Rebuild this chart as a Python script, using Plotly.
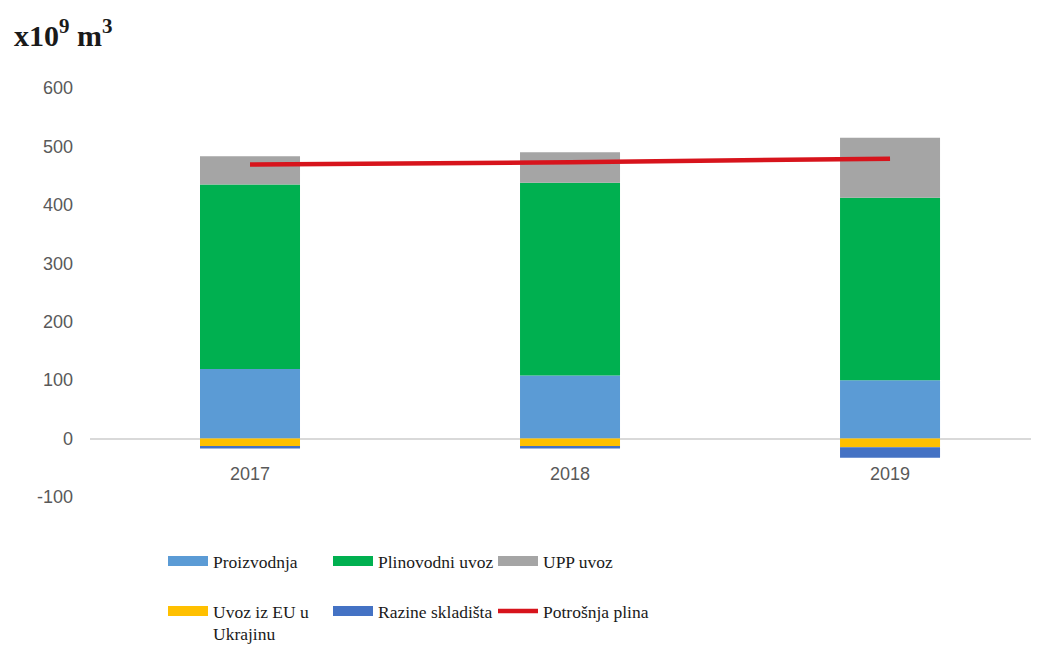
import plotly.graph_objects as go

years = ["2017", "2018", "2019"]
proizvodnja = [119, 108, 100]
plinovodni_uvoz = [316, 330, 312]
upp_uvoz = [48, 52, 103]
uvoz_eu_ukrajina = [-14, -14, -15]
razine_skladista = [-3, -3, -18]
potrosnja_plina = [469, 473, 479]

y_ticks = [-100, 0, 100, 200, 300, 400, 500, 600]
y_tick_labels = ["-100", "0", "100", "200", "300", "400", "500", "600"]

names = ["Proizvodnja", "Plinovodni uvoz", "UPP uvoz",
         "Uvoz iz EU u<br>Ukrajinu", "Razine skladišta"]
colors = ["#5b9bd5", "#00b050", "#a5a5a5", "#ffc000", "#4472c4"]
series = [proizvodnja, plinovodni_uvoz, upp_uvoz, uvoz_eu_ukrajina, razine_skladista]
legends = ["legend", "legend", "legend", "legend2", "legend2"]

fig = go.Figure()
for name, col, vals in zip(names, colors, series):
    fig.add_trace(go.Bar(x=years, y=vals, name=name, marker_color=col,
                         marker_line_width=0, width=0.3125, showlegend=False,
                         legendgroup=name))

# legend entries (wide swatches) linked to the bars
for name, col, lg in zip(names, colors, legends):
    fig.add_trace(go.Scatter(x=[None], y=[None], mode="lines", name=name,
                             line=dict(color=col, width=12), legend=lg,
                             legendgroup=name, hoverinfo="skip"))

fig.add_trace(go.Scatter(x=years, y=potrosnja_plina, mode="lines",
                         name="Potrošnja plina", legend="legend2",
                         line=dict(color="#d7141c", width=4.5)))

tick_font = dict(family="Liberation Sans Narrow, Liberation Sans, Arial", size=18, color="#595959")
leg_font = dict(family="Liberation Serif, Times New Roman, serif", size=17.5, color="#1a1a1a")

leg_common = dict(orientation="h", xref="container", yref="container",
                  x=155 / 1039, xanchor="left", yanchor="top",
                  entrywidth=110, entrywidthmode="pixels", itemwidth=40,
                  font=leg_font, traceorder="normal", valign="top",
                  bgcolor="rgba(0,0,0,0)")

fig.update_layout(
    width=1039, height=655,
    margin=dict(l=82, r=12, t=80, b=166),
    paper_bgcolor="white", plot_bgcolor="white",
    barmode="relative",
    showlegend=True,
    xaxis=dict(type="category", range=[-0.5, 2.453], showgrid=False, showline=False,
               ticks="", tickfont=tick_font, anchor="free", position=100 / 700,
               ticklabelstandoff=22, zeroline=False, automargin=False),
    yaxis=dict(range=[-100, 600], tickvals=y_ticks, ticktext=y_tick_labels,
               showgrid=False, showline=False, automargin=False,
               zeroline=True, zerolinecolor="#d9d9d9", zerolinewidth=1.5,
               tickfont=tick_font, ticks="", ticklabelstandoff=16),
    legend=dict(leg_common, y=1 - 535 / 655),
    legend2=dict(leg_common, y=1 - 585 / 655),
    annotations=[dict(text="<b>x10<sup>9</sup> m<sup>3</sup></b>", xref="paper", yref="paper",
                      x=-0.0825, y=1.1345, xanchor="left", yanchor="middle", showarrow=False,
                      font=dict(family="Liberation Serif, Times New Roman, serif", size=30,
                                color="#1a1a1a"))],
)

fig.write_html("out.html")
